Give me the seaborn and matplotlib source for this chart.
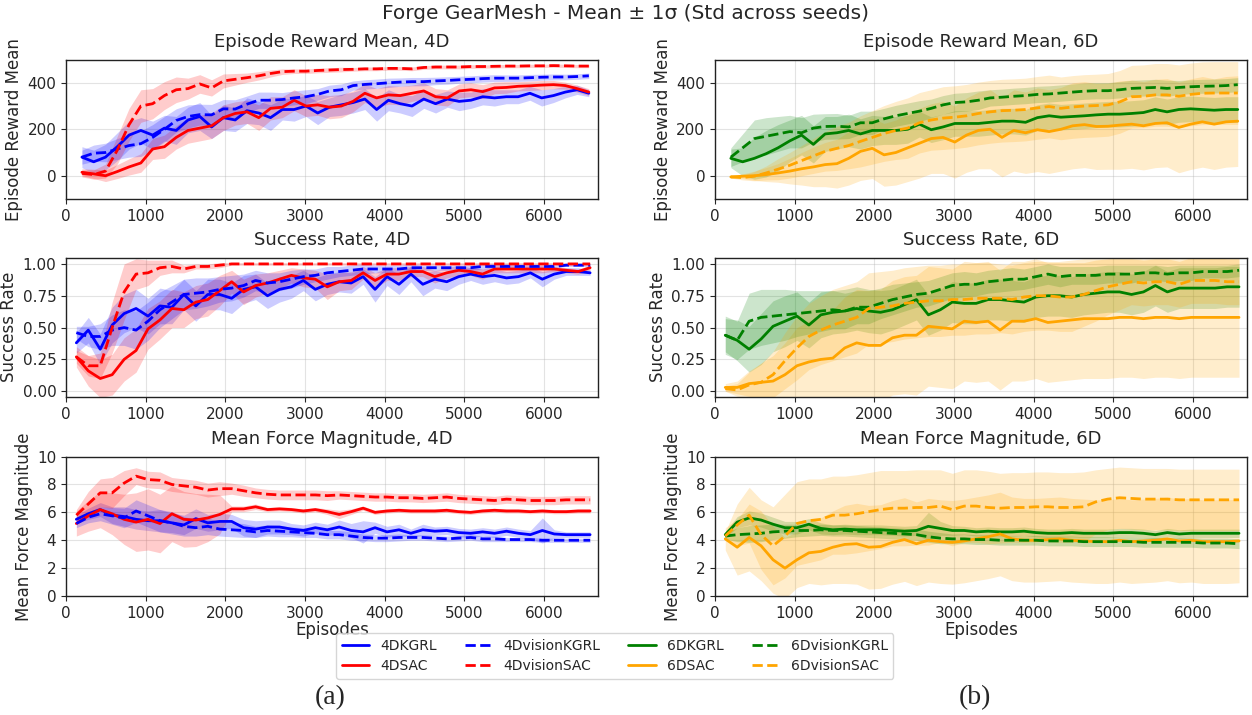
import numpy as np
import matplotlib
matplotlib.use("Agg")
import matplotlib.pyplot as plt
from matplotlib.lines import Line2D
import seaborn as sns

# ---------------------------------------------------------------------------
# Evaluation checkpoints (episodes)
# ---------------------------------------------------------------------------
episodes_reward = np.arange(200, 6565, 148)   # reward curves (rolling window starts later)
episodes = np.arange(130, 6581, 150)          # success rate / force curves

# ---------------------------------------------------------------------------
# Episode reward mean, 4D
# ---------------------------------------------------------------------------
reward_4d_kgrl_mean = [80, 60, 80, 125, 175, 195, 175, 205, 195, 240, 255, 210, 250, 240, 280,
                       270, 250, 285, 285, 300, 270, 295, 305, 315, 330, 285, 325, 310, 300, 330,
                       310, 330, 320, 325, 340, 335, 340, 340, 355, 335, 345, 360, 370, 355]
reward_4d_kgrl_std = [45, 50, 55, 60, 60, 55, 60, 55, 60, 55, 60, 50, 55, 50, 55, 50, 55, 45, 50,
                      45, 50, 40, 45, 45, 45, 50, 45, 40, 45, 40, 40, 35, 40, 35, 35, 35, 30, 30,
                      30, 35, 30, 25, 20, 15]
reward_4d_sac_mean = [15, 8, 0, 18, 38, 55, 115, 125, 165, 195, 205, 215, 250, 268, 275, 250, 290,
                      295, 325, 300, 305, 295, 300, 320, 355, 335, 348, 345, 355, 365, 340, 335,
                      365, 370, 362, 378, 380, 385, 387, 390, 392, 388, 375, 360]
reward_4d_sac_std = [15, 20, 25, 30, 35, 40, 45, 50, 50, 55, 55, 55, 55, 50, 50, 55, 50, 45, 45,
                     45, 45, 50, 50, 45, 40, 40, 40, 40, 35, 35, 35, 35, 30, 30, 30, 25, 25, 20,
                     20, 20, 18, 15, 15, 15]
reward_4d_vkgrl_mean = [80, 97, 100, 115, 130, 138, 165, 200, 238, 255, 263, 262, 288, 287, 308,
                        325, 325, 328, 335, 340, 350, 365, 370, 388, 393, 396, 400, 403, 405, 405,
                        408, 410, 413, 415, 418, 420, 420, 420, 422, 424, 425, 425, 427, 430]
reward_4d_vkgrl_std = [30, 35, 40, 45, 50, 55, 55, 55, 50, 50, 45, 45, 40, 40, 35, 35, 35, 30, 30,
                       30, 25, 25, 25, 20, 20, 20, 20, 18, 18, 18, 16, 16, 15, 15, 15, 15, 14, 14,
                       14, 13, 13, 12, 12, 12]
reward_4d_vsac_mean = [10, 5, 20, 110, 220, 300, 310, 345, 370, 375, 395, 378, 408, 415, 422, 430,
                       440, 448, 450, 450, 453, 455, 457, 458, 460, 460, 462, 462, 460, 466, 468,
                       468, 468, 470, 470, 471, 472, 472, 473, 473, 474, 473, 472, 472]
reward_4d_vsac_std = [15, 20, 30, 60, 70, 70, 65, 60, 55, 45, 40, 35, 30, 25, 20, 18, 15, 12, 10,
                      10, 10, 10, 10, 8, 8, 8, 8, 8, 8, 8, 8, 8, 8, 8, 7, 7, 7, 7, 7, 7, 7, 7, 7, 7]

# ---------------------------------------------------------------------------
# Success rate, 4D
# ---------------------------------------------------------------------------
success_4d_kgrl_mean = [0.38, 0.48, 0.33, 0.52, 0.61, 0.65, 0.59, 0.67, 0.66, 0.76, 0.67, 0.76,
                        0.76, 0.73, 0.80, 0.82, 0.75, 0.80, 0.82, 0.87, 0.80, 0.84, 0.86, 0.85,
                        0.90, 0.80, 0.90, 0.84, 0.92, 0.84, 0.88, 0.86, 0.90, 0.92, 0.90, 0.91,
                        0.89, 0.90, 0.93, 0.88, 0.92, 0.94, 0.94, 0.93]
success_4d_kgrl_std = [0.08, 0.10, 0.12, 0.14, 0.15, 0.15, 0.14, 0.14, 0.13, 0.12, 0.12, 0.12,
                       0.12, 0.12, 0.11, 0.10, 0.10, 0.10, 0.09, 0.08, 0.09, 0.08, 0.08, 0.08,
                       0.06, 0.10, 0.07, 0.08, 0.06, 0.09, 0.07, 0.07, 0.06, 0.05, 0.06, 0.05,
                       0.05, 0.05, 0.04, 0.06, 0.04, 0.03, 0.03, 0.02]
success_4d_sac_mean = [0.27, 0.16, 0.10, 0.13, 0.25, 0.32, 0.49, 0.56, 0.65, 0.64, 0.70, 0.72,
                       0.79, 0.86, 0.78, 0.83, 0.85, 0.88, 0.91, 0.89, 0.88, 0.82, 0.86, 0.87,
                       0.93, 0.87, 0.92, 0.92, 0.94, 0.94, 0.90, 0.93, 0.95, 0.94, 0.92, 0.96,
                       0.96, 0.96, 0.96, 0.96, 0.96, 0.95, 0.94, 0.97]
success_4d_sac_std = [0.08, 0.12, 0.15, 0.16, 0.17, 0.17, 0.16, 0.15, 0.15, 0.14, 0.13, 0.13,
                      0.12, 0.09, 0.10, 0.09, 0.08, 0.07, 0.06, 0.07, 0.07, 0.10, 0.07, 0.07,
                      0.05, 0.06, 0.05, 0.05, 0.04, 0.04, 0.05, 0.04, 0.04, 0.03, 0.04, 0.03,
                      0.03, 0.03, 0.03, 0.03, 0.02, 0.02, 0.02, 0.02]
success_4d_vkgrl_mean = [0.46, 0.43, 0.43, 0.48, 0.50, 0.48, 0.55, 0.64, 0.70, 0.76, 0.77, 0.78,
                         0.80, 0.81, 0.83, 0.87, 0.85, 0.86, 0.88, 0.90, 0.91, 0.93, 0.94, 0.95,
                         0.96, 0.96, 0.96, 0.96, 0.97, 0.97, 0.97, 0.97, 0.97, 0.97, 0.98, 0.98,
                         0.98, 0.98, 0.98, 0.98, 0.98, 0.99, 0.99, 0.99]
success_4d_vkgrl_std = [0.05, 0.08, 0.10, 0.12, 0.14, 0.15, 0.15, 0.14, 0.13, 0.12, 0.12, 0.11,
                        0.10, 0.10, 0.09, 0.08, 0.08, 0.07, 0.07, 0.06, 0.05, 0.05, 0.04, 0.04,
                        0.04, 0.03, 0.03, 0.03, 0.03, 0.02, 0.02, 0.02, 0.02, 0.02, 0.02, 0.02,
                        0.02, 0.01, 0.01, 0.01, 0.01, 0.01, 0.01, 0.01]
success_4d_vsac_mean = [0.27, 0.20, 0.20, 0.50, 0.78, 0.92, 0.93, 0.97, 0.98, 0.96, 0.98, 0.98,
                        0.99, 1.00, 1.00, 1.00, 1.00, 1.00, 1.00, 1.00, 1.00, 1.00, 1.00, 1.00,
                        1.00, 1.00, 1.00, 1.00, 1.00, 1.00, 1.00, 1.00, 1.00, 1.00, 1.00, 1.00,
                        1.00, 1.00, 1.00, 1.00, 1.00, 1.00, 1.00, 1.00]
success_4d_vsac_std = [0.05, 0.08, 0.10, 0.20, 0.22, 0.12, 0.10, 0.06, 0.05, 0.03, 0.02, 0.02,
                       0.02, 0.01, 0.01, 0.01, 0.01, 0.01, 0.01, 0.01, 0.01, 0.01, 0.01, 0.01,
                       0.01, 0.01, 0.01, 0.01, 0.01, 0.01, 0.01, 0.01, 0.01, 0.01, 0.01, 0.01,
                       0.01, 0.01, 0.01, 0.01, 0.01, 0.01, 0.01, 0.01]

# ---------------------------------------------------------------------------
# Mean force magnitude, 4D
# ---------------------------------------------------------------------------
force_4d_kgrl_mean = [5.5, 5.9, 6.2, 5.8, 5.7, 5.5, 5.4, 5.4, 5.25, 5.1, 5.55, 5.25, 5.35, 5.35,
                      4.9, 4.8, 4.95, 4.95, 4.8, 4.7, 4.9, 4.75, 4.95, 4.7, 4.6, 4.9, 4.6, 4.75,
                      4.5, 4.75, 4.65, 4.7, 4.55, 4.5, 4.6, 4.5, 4.65, 4.5, 4.4, 4.7, 4.45, 4.4,
                      4.4, 4.4]
force_4d_kgrl_std = [0.3, 0.4, 0.5, 0.6, 0.7, 0.7, 0.7, 0.8, 0.7, 0.7, 0.7, 0.6, 0.6, 0.5, 0.6,
                     0.6, 0.5, 0.5, 0.4, 0.4, 0.4, 0.4, 0.5, 0.5, 0.8, 0.4, 0.4, 0.4, 0.3, 0.4,
                     0.3, 0.3, 0.3, 0.3, 0.3, 0.3, 0.3, 0.3, 0.3, 0.9, 0.3, 0.2, 0.2, 0.2]
force_4d_sac_mean = [5.2, 5.75, 6.2, 5.9, 5.5, 5.3, 5.5, 5.2, 5.9, 5.5, 5.45, 5.6, 5.85, 6.25,
                     6.25, 6.4, 6.2, 6.25, 6.2, 6.1, 6.2, 6.05, 5.85, 6.05, 6.3, 6.0, 6.1, 6.15,
                     6.1, 6.1, 6.1, 6.15, 6.05, 6.0, 6.1, 6.15, 6.1, 6.1, 6.05, 6.1, 6.05, 6.05,
                     6.1, 6.1]
force_4d_sac_std = [0.9, 1.1, 1.3, 1.5, 1.8, 2.1, 2.2, 2.1, 2.0, 2.0, 1.9, 1.7, 1.4, 0.2, 0.2,
                    0.2, 0.15, 0.15, 0.15, 0.15, 0.15, 0.2, 0.3, 0.2, 0.15, 0.15, 0.15, 0.15,
                    0.15, 0.15, 0.15, 0.15, 0.15, 0.15, 0.15, 0.15, 0.15, 0.15, 0.15, 0.15,
                    0.15, 0.15, 0.15, 0.15]
force_4d_vkgrl_mean = [5.2, 5.65, 5.9, 5.75, 5.6, 6.1, 5.75, 5.4, 5.25, 5.0, 4.9, 5.0, 4.8, 4.75,
                       4.7, 4.6, 4.7, 4.65, 4.6, 4.55, 4.5, 4.4, 4.4, 4.3, 4.2, 4.15, 4.15, 4.2,
                       4.2, 4.2, 4.15, 4.1, 4.15, 4.2, 4.1, 4.1, 4.05, 4.05, 4.05, 4.0, 4.0, 4.0,
                       4.0, 4.0]
force_4d_vkgrl_std = [0.3, 0.4, 0.5, 0.6, 0.7, 0.8, 0.8, 0.8, 0.8, 0.7, 0.6, 0.6, 0.5, 0.5, 0.5,
                      0.4, 0.4, 0.4, 0.35, 0.35, 0.3, 0.3, 0.3, 0.3, 0.25, 0.25, 0.25, 0.25, 0.2,
                      0.2, 0.2, 0.2, 0.2, 0.2, 0.2, 0.2, 0.15, 0.15, 0.15, 0.15, 0.15, 0.15,
                      0.15, 0.15]
force_4d_vsac_mean = [5.8, 6.6, 7.4, 7.4, 8.1, 8.6, 8.35, 8.3, 8.0, 7.9, 7.8, 7.6, 7.7, 7.7,
                      7.55, 7.4, 7.3, 7.25, 7.25, 7.25, 7.25, 7.2, 7.25, 7.2, 7.15, 7.1, 7.1,
                      7.05, 7.05, 7.0, 7.05, 7.1, 7.0, 6.95, 6.9, 6.85, 6.95, 6.9, 6.85, 6.85,
                      6.85, 6.9, 6.9, 6.9]
force_4d_vsac_std = [0.4, 0.9, 1.0, 1.1, 0.9, 0.6, 0.6, 0.6, 0.5, 0.5, 0.5, 0.5, 0.5, 0.4, 0.4,
                     0.35, 0.35, 0.35, 0.35, 0.35, 0.35, 0.35, 0.3, 0.3, 0.3, 0.3, 0.3, 0.3, 0.3,
                     0.3, 0.3, 0.3, 0.3, 0.3, 0.3, 0.3, 0.3, 0.3, 0.3, 0.3, 0.3, 0.3, 0.3, 0.3]

# ---------------------------------------------------------------------------
# Episode reward mean, 6D
# ---------------------------------------------------------------------------
reward_6d_kgrl_mean = [75, 60, 75, 95, 120, 150, 175, 135, 180, 185, 195, 180, 195, 195, 195, 200,
                       222, 198, 210, 225, 225, 225, 230, 235, 235, 230, 250, 258, 252, 255, 258,
                       262, 265, 265, 268, 272, 285, 275, 285, 288, 285, 282, 285, 285]
reward_6d_kgrl_std = [40, 60, 90, 100, 100, 90, 85, 80, 75, 70, 70, 65, 65, 60, 60, 60, 55, 55,
                      55, 55, 55, 55, 55, 55, 55, 55, 55, 55, 55, 55, 55, 55, 55, 55, 55, 55, 55,
                      55, 55, 55, 55, 55, 55, 55]
reward_6d_sac_mean = [-5, -2, 0, 5, 12, 20, 30, 38, 48, 52, 75, 105, 118, 90, 100, 120, 140, 160,
                      165, 145, 175, 195, 200, 165, 195, 185, 198, 190, 200, 215, 220, 212, 213,
                      218, 222, 215, 225, 228, 208, 222, 232, 222, 232, 235]
reward_6d_sac_std = [5, 10, 20, 30, 40, 55, 70, 85, 95, 105, 115, 125, 130, 135, 140, 145, 150,
                     150, 155, 155, 160, 165, 170, 170, 175, 175, 180, 180, 180, 185, 185, 185,
                     185, 190, 190, 190, 190, 190, 195, 195, 195, 195, 195, 195]
reward_6d_vkgrl_mean = [80, 120, 160, 170, 180, 190, 185, 205, 212, 213, 210, 228, 228, 245, 258,
                        268, 278, 290, 305, 315, 318, 325, 335, 338, 342, 345, 350, 352, 356, 360,
                        364, 366, 366, 370, 376, 378, 380, 376, 380, 383, 385, 386, 388, 392]
reward_6d_vkgrl_std = [40, 60, 80, 80, 75, 70, 65, 60, 55, 55, 50, 50, 50, 45, 45, 45, 45, 40,
                       40, 40, 40, 40, 35, 35, 35, 35, 35, 35, 35, 35, 35, 35, 35, 35, 35, 35, 35,
                       35, 30, 30, 30, 30, 30, 30]
reward_6d_vsac_mean = [-5, -8, -2, 12, 28, 45, 65, 85, 105, 118, 130, 148, 165, 182, 195, 205,
                       228, 240, 248, 252, 258, 268, 275, 280, 282, 285, 292, 298, 290, 296, 300,
                       302, 305, 318, 340, 342, 348, 348, 342, 350, 355, 356, 356, 356]
reward_6d_vsac_std = [5, 10, 20, 30, 45, 55, 65, 75, 85, 95, 100, 110, 115, 120, 125, 130, 130,
                      130, 135, 135, 135, 135, 135, 135, 135, 135, 135, 135, 135, 135, 135, 135,
                      135, 135, 135, 135, 135, 135, 135, 135, 135, 135, 135, 135]

# ---------------------------------------------------------------------------
# Success rate, 6D
# ---------------------------------------------------------------------------
success_6d_kgrl_mean = [0.44, 0.40, 0.33, 0.41, 0.51, 0.55, 0.59, 0.52, 0.60, 0.62, 0.63, 0.65,
                        0.63, 0.62, 0.64, 0.68, 0.72, 0.60, 0.64, 0.70, 0.69, 0.69, 0.72, 0.72,
                        0.71, 0.70, 0.74, 0.75, 0.75, 0.74, 0.76, 0.77, 0.78, 0.78, 0.76, 0.78,
                        0.83, 0.78, 0.81, 0.81, 0.81, 0.81, 0.82, 0.82]
success_6d_kgrl_std = [0.13, 0.16, 0.18, 0.20, 0.20, 0.20, 0.19, 0.18, 0.18, 0.17, 0.17, 0.17,
                       0.17, 0.17, 0.16, 0.16, 0.16, 0.16, 0.16, 0.16, 0.16, 0.16, 0.16, 0.16,
                       0.16, 0.16, 0.16, 0.16, 0.16, 0.16, 0.16, 0.16, 0.16, 0.16, 0.16, 0.16,
                       0.16, 0.16, 0.16, 0.16, 0.16, 0.16, 0.16, 0.16]
success_6d_sac_mean = [0.03, 0.03, 0.06, 0.07, 0.08, 0.13, 0.20, 0.23, 0.25, 0.26, 0.34, 0.38,
                       0.36, 0.36, 0.42, 0.44, 0.44, 0.51, 0.50, 0.49, 0.55, 0.54, 0.55, 0.48,
                       0.55, 0.55, 0.57, 0.54, 0.55, 0.56, 0.57, 0.57, 0.57, 0.58, 0.58, 0.57,
                       0.58, 0.58, 0.57, 0.58, 0.58, 0.58, 0.58, 0.58]
success_6d_sac_std = [0.03, 0.05, 0.10, 0.15, 0.20, 0.25, 0.30, 0.32, 0.35, 0.38, 0.40, 0.42,
                      0.43, 0.44, 0.45, 0.46, 0.47, 0.47, 0.47, 0.47, 0.47, 0.47, 0.47, 0.47,
                      0.47, 0.47, 0.47, 0.47, 0.47, 0.47, 0.47, 0.47, 0.47, 0.47, 0.47, 0.47,
                      0.47, 0.47, 0.47, 0.47, 0.47, 0.47, 0.47, 0.47]
success_6d_vkgrl_mean = [0.44, 0.40, 0.55, 0.58, 0.59, 0.60, 0.61, 0.62, 0.63, 0.64, 0.63, 0.66,
                         0.66, 0.69, 0.72, 0.74, 0.76, 0.77, 0.80, 0.83, 0.84, 0.84, 0.86, 0.87,
                         0.88, 0.88, 0.90, 0.92, 0.90, 0.91, 0.91, 0.91, 0.92, 0.92, 0.92, 0.93,
                         0.93, 0.92, 0.93, 0.93, 0.94, 0.94, 0.94, 0.95]
success_6d_vkgrl_std = [0.15, 0.15, 0.22, 0.22, 0.21, 0.20, 0.18, 0.17, 0.16, 0.15, 0.14, 0.13,
                        0.13, 0.12, 0.12, 0.11, 0.10, 0.10, 0.10, 0.10, 0.10, 0.09, 0.09, 0.09,
                        0.09, 0.08, 0.08, 0.08, 0.08, 0.07, 0.07, 0.07, 0.07, 0.07, 0.07, 0.06,
                        0.06, 0.06, 0.06, 0.06, 0.05, 0.05, 0.05, 0.05]
success_6d_vsac_mean = [0.02, 0.01, 0.05, 0.07, 0.13, 0.24, 0.34, 0.43, 0.48, 0.52, 0.55, 0.58,
                        0.65, 0.66, 0.67, 0.69, 0.70, 0.71, 0.71, 0.72, 0.72, 0.73, 0.73, 0.73,
                        0.72, 0.74, 0.75, 0.75, 0.74, 0.74, 0.76, 0.79, 0.82, 0.84, 0.86, 0.85,
                        0.86, 0.86, 0.84, 0.87, 0.87, 0.87, 0.86, 0.86]
success_6d_vsac_std = [0.02, 0.05, 0.10, 0.15, 0.18, 0.22, 0.25, 0.26, 0.27, 0.28, 0.28, 0.28,
                       0.28, 0.28, 0.28, 0.28, 0.28, 0.28, 0.28, 0.28, 0.28, 0.28, 0.28, 0.27,
                       0.27, 0.27, 0.27, 0.27, 0.27, 0.27, 0.25, 0.24, 0.22, 0.20, 0.18, 0.18,
                       0.18, 0.18, 0.18, 0.18, 0.18, 0.18, 0.18, 0.18]

# ---------------------------------------------------------------------------
# Mean force magnitude, 6D
# ---------------------------------------------------------------------------
force_6d_kgrl_mean = [4.4, 5.3, 5.6, 5.45, 5.15, 4.9, 4.9, 5.15, 4.85, 4.75, 4.8, 4.75, 4.75,
                      4.75, 4.7, 4.65, 4.7, 5.0, 4.85, 4.7, 4.7, 4.6, 4.65, 4.6, 4.6, 4.65, 4.55,
                      4.5, 4.5, 4.55, 4.5, 4.5, 4.5, 4.55, 4.55, 4.5, 4.4, 4.55, 4.45, 4.5, 4.5,
                      4.5, 4.5, 4.5]
force_6d_kgrl_std = [0.2, 0.4, 0.5, 0.5, 0.5, 0.45, 0.45, 0.4, 0.4, 0.35, 0.35, 0.35, 0.35,
                     0.35, 0.35, 0.35, 0.35, 1.0, 0.5, 0.35, 0.3, 0.3, 0.3, 0.3, 0.3, 0.3, 0.3,
                     0.3, 0.3, 0.3, 0.3, 0.3, 0.3, 0.3, 0.3, 0.3, 0.3, 0.3, 0.3, 0.3, 0.3, 0.3,
                     0.3, 0.3]
force_6d_sac_mean = [4.1, 3.5, 4.2, 3.6, 2.6, 2.0, 2.6, 3.1, 3.2, 3.5, 3.7, 3.75, 3.5, 3.55,
                     3.85, 4.05, 3.75, 4.0, 3.9, 3.85, 3.95, 4.1, 4.25, 4.45, 4.1, 4.0, 4.0,
                     4.05, 4.1, 4.0, 3.95, 3.9, 3.9, 4.0, 3.9, 3.95, 4.0, 4.1, 3.95, 4.0, 3.9,
                     3.9, 3.9, 3.95]
force_6d_sac_std = [0.8, 2.0, 2.4, 2.5, 2.4, 2.2, 2.0, 2.2, 2.4, 2.6, 2.8, 2.9, 3.0, 3.0, 3.0,
                    3.0, 3.0, 3.0, 3.0, 3.0, 3.0, 3.0, 3.0, 3.0, 3.0, 3.0, 3.0, 3.0, 3.0, 3.0,
                    3.0, 3.0, 3.0, 3.0, 3.0, 3.0, 3.0, 3.0, 3.0, 3.0, 3.0, 3.0, 3.0, 3.0]
force_6d_vkgrl_mean = [4.3, 4.4, 4.45, 4.5, 4.6, 4.65, 4.7, 4.7, 4.75, 4.7, 4.7, 4.65, 4.6, 4.55,
                       4.5, 4.45, 4.4, 4.25, 4.15, 4.1, 4.1, 4.05, 4.05, 4.0, 4.0, 4.0, 4.0,
                       3.95, 3.95, 3.95, 3.9, 3.9, 3.9, 3.9, 3.9, 3.85, 3.85, 3.85, 3.85, 3.85,
                       3.8, 3.8, 3.8, 3.75]
force_6d_vkgrl_std = [0.2, 0.5, 0.6, 0.6, 0.55, 0.5, 0.45, 0.4, 0.4, 0.4, 0.4, 0.4, 0.4, 0.4,
                      0.4, 0.4, 0.4, 0.4, 0.4, 0.35, 0.35, 0.35, 0.35, 0.35, 0.35, 0.35, 0.35,
                      0.35, 0.35, 0.35, 0.35, 0.35, 0.35, 0.35, 0.35, 0.35, 0.35, 0.35, 0.35,
                      0.35, 0.35, 0.35, 0.35, 0.35]
force_6d_vsac_mean = [4.3, 5.1, 5.8, 4.4, 3.6, 4.3, 5.2, 5.4, 5.5, 5.8, 5.8, 5.9, 6.05, 6.2, 6.3,
                      6.3, 6.35, 6.35, 6.45, 6.2, 6.45, 6.45, 6.35, 6.3, 6.35, 6.35, 6.4, 6.4,
                      6.35, 6.35, 6.4, 6.75, 6.95, 7.05, 7.0, 6.95, 6.95, 6.95, 6.9, 6.9, 6.9,
                      6.9, 6.9, 6.9]
force_6d_vsac_std = [0.3, 1.5, 2.0, 2.5, 2.8, 3.0, 3.0, 3.0, 2.9, 2.8, 2.8, 2.8, 2.8, 2.8, 2.7,
                     2.7, 2.7, 2.7, 2.6, 2.6, 2.6, 2.6, 2.6, 2.5, 2.5, 2.5, 2.5, 2.5, 2.5, 2.5,
                     2.5, 2.3, 2.2, 2.2, 2.2, 2.2, 2.2, 2.2, 2.2, 2.2, 2.2, 2.2, 2.2, 2.2]

# ---------------------------------------------------------------------------
# Styling of each method
# ---------------------------------------------------------------------------
method_colors = {"4DKGRL": "blue", "4DSAC": "red", "4DvisionKGRL": "blue", "4DvisionSAC": "red",
                 "6DKGRL": "green", "6DSAC": "orange", "6DvisionKGRL": "green",
                 "6DvisionSAC": "orange"}
method_styles = {"4DKGRL": "-", "4DSAC": "-", "4DvisionKGRL": "--", "4DvisionSAC": "--",
                 "6DKGRL": "-", "6DSAC": "-", "6DvisionKGRL": "--", "6DvisionSAC": "--"}

panels = [
    # (row, col, title, ylabel, x, ylim, yticks, series)
    (0, 0, "Episode Reward Mean, 4D", "Episode Reward Mean", episodes_reward, (-100, 500),
     [0, 200, 400],
     [("4DKGRL", reward_4d_kgrl_mean, reward_4d_kgrl_std),
      ("4DSAC", reward_4d_sac_mean, reward_4d_sac_std),
      ("4DvisionKGRL", reward_4d_vkgrl_mean, reward_4d_vkgrl_std),
      ("4DvisionSAC", reward_4d_vsac_mean, reward_4d_vsac_std)]),
    (1, 0, "Success Rate, 4D", "Success Rate", episodes, (-0.045, 1.05),
     [0.0, 0.25, 0.5, 0.75, 1.0],
     [("4DKGRL", success_4d_kgrl_mean, success_4d_kgrl_std),
      ("4DSAC", success_4d_sac_mean, success_4d_sac_std),
      ("4DvisionKGRL", success_4d_vkgrl_mean, success_4d_vkgrl_std),
      ("4DvisionSAC", success_4d_vsac_mean, success_4d_vsac_std)]),
    (2, 0, "Mean Force Magnitude, 4D", "Mean Force Magnitude", episodes, (0, 10),
     [0, 2, 4, 6, 8, 10],
     [("4DKGRL", force_4d_kgrl_mean, force_4d_kgrl_std),
      ("4DSAC", force_4d_sac_mean, force_4d_sac_std),
      ("4DvisionKGRL", force_4d_vkgrl_mean, force_4d_vkgrl_std),
      ("4DvisionSAC", force_4d_vsac_mean, force_4d_vsac_std)]),
    (0, 1, "Episode Reward Mean, 6D", "Episode Reward Mean", episodes_reward, (-100, 500),
     [0, 200, 400],
     [("6DKGRL", reward_6d_kgrl_mean, reward_6d_kgrl_std),
      ("6DSAC", reward_6d_sac_mean, reward_6d_sac_std),
      ("6DvisionKGRL", reward_6d_vkgrl_mean, reward_6d_vkgrl_std),
      ("6DvisionSAC", reward_6d_vsac_mean, reward_6d_vsac_std)]),
    (1, 1, "Success Rate, 6D", "Success Rate", episodes, (-0.045, 1.05),
     [0.0, 0.25, 0.5, 0.75, 1.0],
     [("6DKGRL", success_6d_kgrl_mean, success_6d_kgrl_std),
      ("6DSAC", success_6d_sac_mean, success_6d_sac_std),
      ("6DvisionKGRL", success_6d_vkgrl_mean, success_6d_vkgrl_std),
      ("6DvisionSAC", success_6d_vsac_mean, success_6d_vsac_std)]),
    (2, 1, "Mean Force Magnitude, 6D", "Mean Force Magnitude", episodes, (0, 10),
     [0, 2, 4, 6, 8, 10],
     [("6DKGRL", force_6d_kgrl_mean, force_6d_kgrl_std),
      ("6DSAC", force_6d_sac_mean, force_6d_sac_std),
      ("6DvisionKGRL", force_6d_vkgrl_mean, force_6d_vkgrl_std),
      ("6DvisionSAC", force_6d_vsac_mean, force_6d_vsac_std)]),
]

# ---------------------------------------------------------------------------
# Figure
# ---------------------------------------------------------------------------
sns.set_theme(style="ticks")
plt.rcParams["font.family"] = ["DejaVu Sans"]
plt.rcParams["axes.edgecolor"] = "#222222"
plt.rcParams["xtick.labelsize"] = 11
plt.rcParams["ytick.labelsize"] = 11
plt.rcParams["xtick.major.size"] = 3.5
plt.rcParams["ytick.major.size"] = 3.5
plt.rcParams["xtick.major.width"] = 0.8
plt.rcParams["ytick.major.width"] = 0.8

fig = plt.figure(figsize=(12.52, 7.15), dpi=100)

col_left = [0.0527, 0.571]
col_width = 0.425
row_bottom = [0.7217, 0.4448, 0.1664]
row_height = 0.195

for row, col, title, ylabel, x, ylim, yticks, series in panels:
    ax = fig.add_axes([col_left[col], row_bottom[row], col_width, row_height])
    for name, mean, std in series:
        mean = np.asarray(mean, dtype=float)
        std = np.asarray(std, dtype=float)
        color = method_colors[name]
        sns.lineplot(x=x, y=mean, ax=ax, color=color, linestyle=method_styles[name],
                     linewidth=2.0, legend=False)
        ax.fill_between(x, mean - std, mean + std, color=color, alpha=0.2, linewidth=0)
    if ax.get_legend() is not None:
        ax.get_legend().remove()

    ax.set_xlim(0, 6680)
    ax.set_ylim(*ylim)
    ax.set_xticks([0, 1000, 2000, 3000, 4000, 5000, 6000])
    ax.set_yticks(yticks)
    if row == 1:
        ax.set_yticklabels([f"{v:.2f}" for v in yticks])
    ax.grid(True, color="#b0b0b0", alpha=0.35, linewidth=0.8)
    ax.set_title(title, fontsize=13, pad=9)
    ax.set_ylabel(ylabel, fontsize=12, labelpad=3)
    ax.set_xlabel("Episodes" if row == 2 else "", fontsize=12, labelpad=0)
    for s in ax.spines.values():
        s.set_linewidth(1.0)

fig.suptitle("Forge GearMesh - Mean \u00b1 1\u03c3 (Std across seeds)", fontsize=14.5, y=0.995)

order = ["4DKGRL", "4DSAC", "4DvisionKGRL", "4DvisionSAC",
         "6DKGRL", "6DSAC", "6DvisionKGRL", "6DvisionSAC"]
handles = [Line2D([], [], color=method_colors[n], linestyle=method_styles[n], linewidth=2.0)
           for n in order]
fig.legend(handles, order, loc="center", bbox_to_anchor=(0.491, 0.0825), ncol=4,
           fontsize=10, frameon=True, edgecolor="#cccccc", handlelength=2.0,
           columnspacing=2.0, borderpad=0.4, labelspacing=0.45)

fig.text(0.264, 0.024, "(a)", fontsize=20, family="Liberation Serif", ha="center", va="center")
fig.text(0.779, 0.024, "(b)", fontsize=20, family="Liberation Serif", ha="center", va="center")

fig.savefig("out.png", dpi=100)
